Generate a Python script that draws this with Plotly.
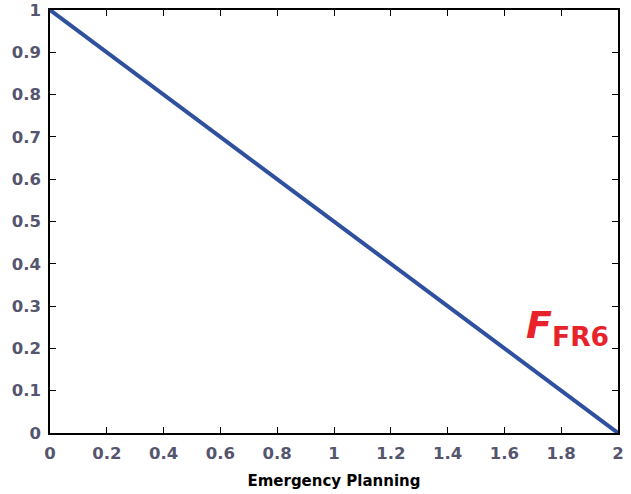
import plotly.graph_objects as go

x_vals = [0, 2]
y_vals = [1, 0]
x_ticks = [0, 0.2, 0.4, 0.6, 0.8, 1, 1.2, 1.4, 1.6, 1.8, 2]
y_ticks = [0, 0.1, 0.2, 0.3, 0.4, 0.5, 0.6, 0.7, 0.8, 0.9, 1]

fig = go.Figure()
fig.add_trace(go.Scatter(x=x_vals, y=y_vals, mode="lines",
                         line=dict(color="#2f4f9f", width=4), showlegend=False))

tickfont = dict(family="DejaVu Sans", size=16.5, color="#55556e", weight="bold")
axis_common = dict(showgrid=False, zeroline=False, showline=True, linecolor="black",
                   linewidth=1.5, mirror="ticks", ticks="inside", ticklen=6,
                   tickcolor="black", tickwidth=1, tickfont=tickfont, automargin=False)

fig.update_xaxes(range=[0, 2], tickvals=x_ticks, ticktext=[str(t) for t in x_ticks],
                 ticklabelstandoff=4,
                 title=dict(text="Emergency Planning", standoff=14,
                            font=dict(family="DejaVu Sans", size=15, color="black", weight="bold")),
                 **axis_common)
fig.update_yaxes(range=[0, 1], tickvals=y_ticks, ticktext=[str(t) for t in y_ticks],
                 ticklabelstandoff=4, **axis_common)

label = "<i>F</i><sub>FR6</sub>"
fig.add_annotation(x=1.975, y=0.25, xref="x", yref="y", text=label, showarrow=False,
                   xanchor="right", font=dict(family="DejaVu Sans", size=38, color="#e8222a", weight="bold"))

fig.update_layout(width=631, height=494, margin=dict(l=50, r=13, t=10, b=61),
                  paper_bgcolor="white", plot_bgcolor="white")
fig.write_html("out.html")
